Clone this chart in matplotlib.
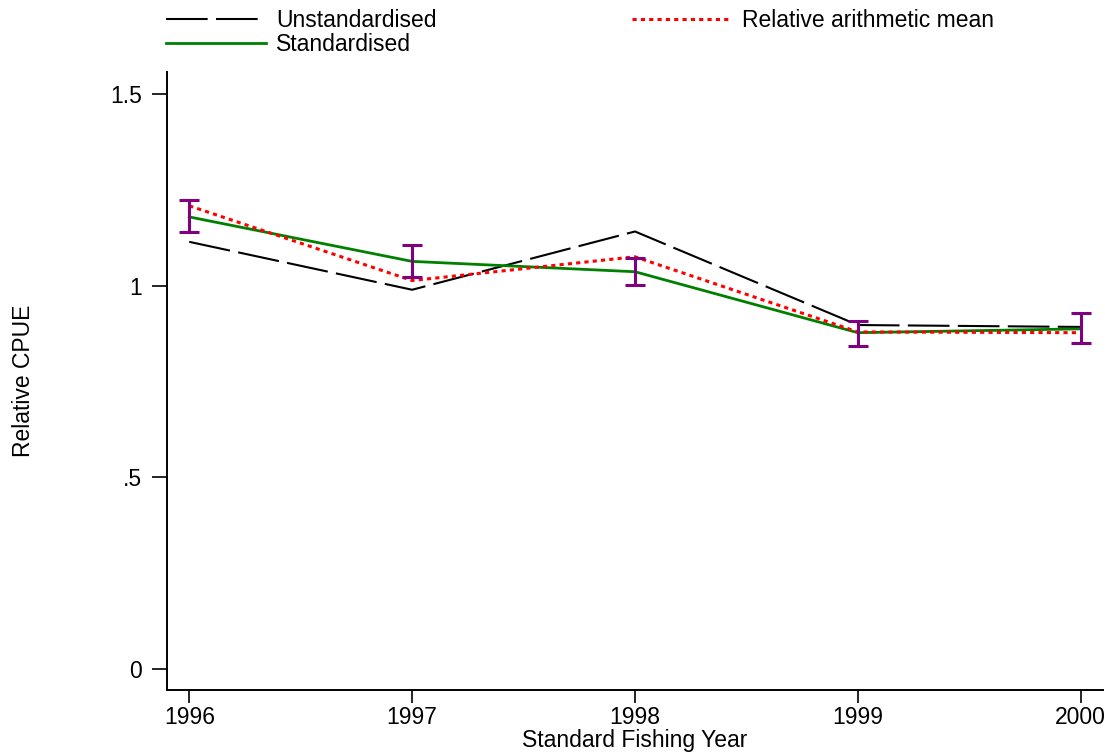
import matplotlib.pyplot as plt
import numpy as np

plt.rcParams['font.family'] = ['Liberation Sans', 'DejaVu Sans']
plt.rcParams['lines.scale_dashes'] = False

# data
years = [1996, 1997, 1998, 1999, 2000]
unstandardised = [1.114, 0.989, 1.141, 0.897, 0.892]
standardised = [1.179, 1.063, 1.036, 0.877, 0.887]
rel_mean = [1.208, 1.013, 1.075, 0.879, 0.877]
ci_upper = [1.224, 1.106, 1.072, 0.908, 0.929]
ci_lower = [1.140, 1.023, 1.002, 0.843, 0.850]

fs = 16.5

fig = plt.figure(figsize=(11.05, 7.54), dpi=100)
ax = fig.add_axes([0.1511, 0.0849, 0.8471, 0.8196])

l1, = ax.plot(years, unstandardised, color='black', lw=1.5, dashes=(30, 6),
              label='Unstandardised')
l2, = ax.plot(years, standardised, color='#008000', lw=2.0, label='Standardised')
l3, = ax.plot(years, rel_mean, color='red', lw=2.2, dashes=(3, 3),
              label='Relative arithmetic mean')

mid = (np.array(ci_upper) + np.array(ci_lower)) / 2
err = (np.array(ci_upper) - np.array(ci_lower)) / 2
ax.errorbar(years, mid, yerr=err, fmt='none', ecolor='#800080', elinewidth=2.2,
            capsize=7.5, capthick=2.2)

ax.set_xlim(1995.90, 2000.10)
ax.set_ylim(-0.055, 1.557)
ax.set_xticks(years)
ax.set_yticks([0, 0.5, 1, 1.5])
ax.set_yticklabels(['0', '.5', '1', '1.5'])

for s in ['top', 'right']:
    ax.spines[s].set_visible(False)
for s in ['left', 'bottom']:
    ax.spines[s].set_linewidth(1.4)

ax.tick_params(axis='y', direction='out', length=11, width=1.2, pad=7, labelsize=fs)
ax.tick_params(axis='x', direction='out', length=9.5, width=1.2, pad=2, labelsize=fs)

ax.set_xlabel('Standard Fishing Year', fontsize=fs, labelpad=0)
ax.set_ylabel('Relative CPUE', fontsize=fs)
ax.yaxis.set_label_coords(-0.141, 0.5)

fig.legend([l1, l2, l3], ['Unstandardised', 'Standardised', 'Relative arithmetic mean'],
           ncol=2, loc='upper left', bbox_to_anchor=(0.134, 1.012), frameon=False,
           fontsize=fs, handlelength=4.35, handletextpad=0.45, columnspacing=8.5,
           labelspacing=0.05, borderpad=0.3)

fig.savefig('out.png')
